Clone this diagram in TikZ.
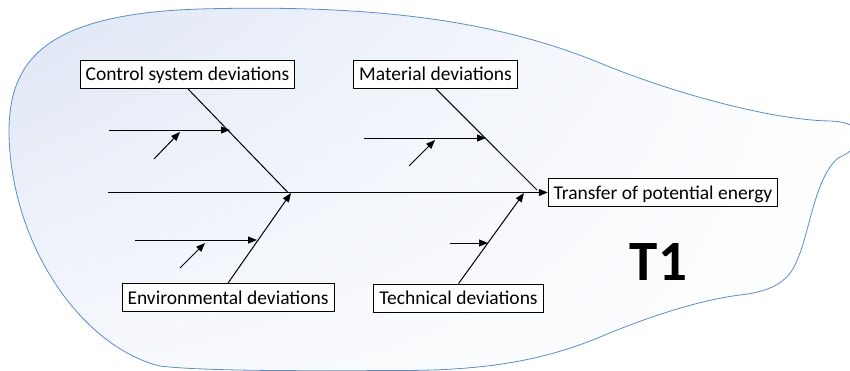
\documentclass[tikz,border=0pt]{standalone}
\usepackage{fontspec}
\setmainfont{Carlito}
\usetikzlibrary{arrows.meta,shadings}
\definecolor{blobline}{RGB}{91,141,201}
\definecolor{blobfillA}{RGB}{222,230,245}
\definecolor{blobfillB}{RGB}{246,248,252}
\begin{document}
\begin{tikzpicture}[x=1pt,y=-1pt,
  cause/.style={draw=black, line width=0.8pt, fill=white, inner xsep=5.5pt,
    inner ysep=3pt, text height=17.7pt, text depth=4.3pt,
    font=\fontsize{19.5}{23}\selectfont},
  bone/.style={line width=1pt},
  arr/.style={bone, -{Triangle[length=9pt,width=7pt]}},
  blob/.style={draw=blobline, line width=0.8pt,
    upper left=blobfillA, upper right=white,
    lower left=blobfillB, lower right=white},
]
\useasboundingbox (0,0) rectangle (850,370);

% background outline
\begin{scope}
  \clip (0,0) rectangle (850,370);
  \shadedraw[blob] (9,135)
    .. controls (8,60) and (45,14) .. (200,9)
    .. controls (380,4) and (500,22) .. (600,63)
    .. controls (670,92) and (770,120) .. (830,121)
    .. controls (868,122) and (868,145) .. (838,158)
    .. controls (815,178) and (810,230) .. (798,258)
    .. controls (790,280) and (775,291) .. (740,295)
    .. controls (700,300) and (650,316) .. (600,337)
    .. controls (540,362) and (480,370.5) .. (400,370.5)
    .. controls (300,371) and (200,371) .. (160,366)
    .. controls (85,348) and (12,250) .. (9,135) -- cycle;
\end{scope}

% category boxes and effect
\node[cause] (ctrl) at (187.5,74) {Control system deviations};
\node[cause] (mat)  at (435.5,74) {Material deviations};
\node[cause] (eff)  at (663,192.5) {Transfer of potential energy};
\node[cause] (env)  at (228,297.5) {Environmental deviations};
\node[cause] (tech) at (458.5,298) {Technical deviations};
\node[font=\bfseries\fontsize{57}{60}\selectfont] (t1) at (658.5,261.5) {T1};

% spine
\coordinate (tail) at (108,192.5);
\draw[arr] (tail) -- (eff.west);

% main bones
\coordinate (j1) at (288,192.5);
\coordinate (j2) at (537,190);
\coordinate (j3) at (291,193);
\coordinate (j4) at (524,193);
\draw[bone] (ctrl.south) -- (j1);
\draw[bone] (mat.south) -- (j2);
\draw[arr] (env.north) -- (j3);
\draw[arr] (tech.north) -- (j4);

% sub-causes
\coordinate (a1s) at (109,130);  \coordinate (a1e) at (230,130);
\coordinate (a2s) at (154,159);  \coordinate (a2e) at (180,132);
\coordinate (b1s) at (364,138);  \coordinate (b1e) at (486,138);
\coordinate (b2s) at (409,166);  \coordinate (b2e) at (435,140);
\coordinate (c1s) at (135,240);  \coordinate (c1e) at (257,240);
\coordinate (c2s) at (180,268);  \coordinate (c2e) at (205,243);
\coordinate (d1s) at (450,243);  \coordinate (d1e) at (488,243);
\draw[arr] (a1s) -- (a1e);
\draw[arr] (a2s) -- (a2e);
\draw[arr] (b1s) -- (b1e);
\draw[arr] (b2s) -- (b2e);
\draw[arr] (c1s) -- (c1e);
\draw[arr] (c2s) -- (c2e);
\draw[arr] (d1s) -- (d1e);
\end{tikzpicture}
\end{document}
